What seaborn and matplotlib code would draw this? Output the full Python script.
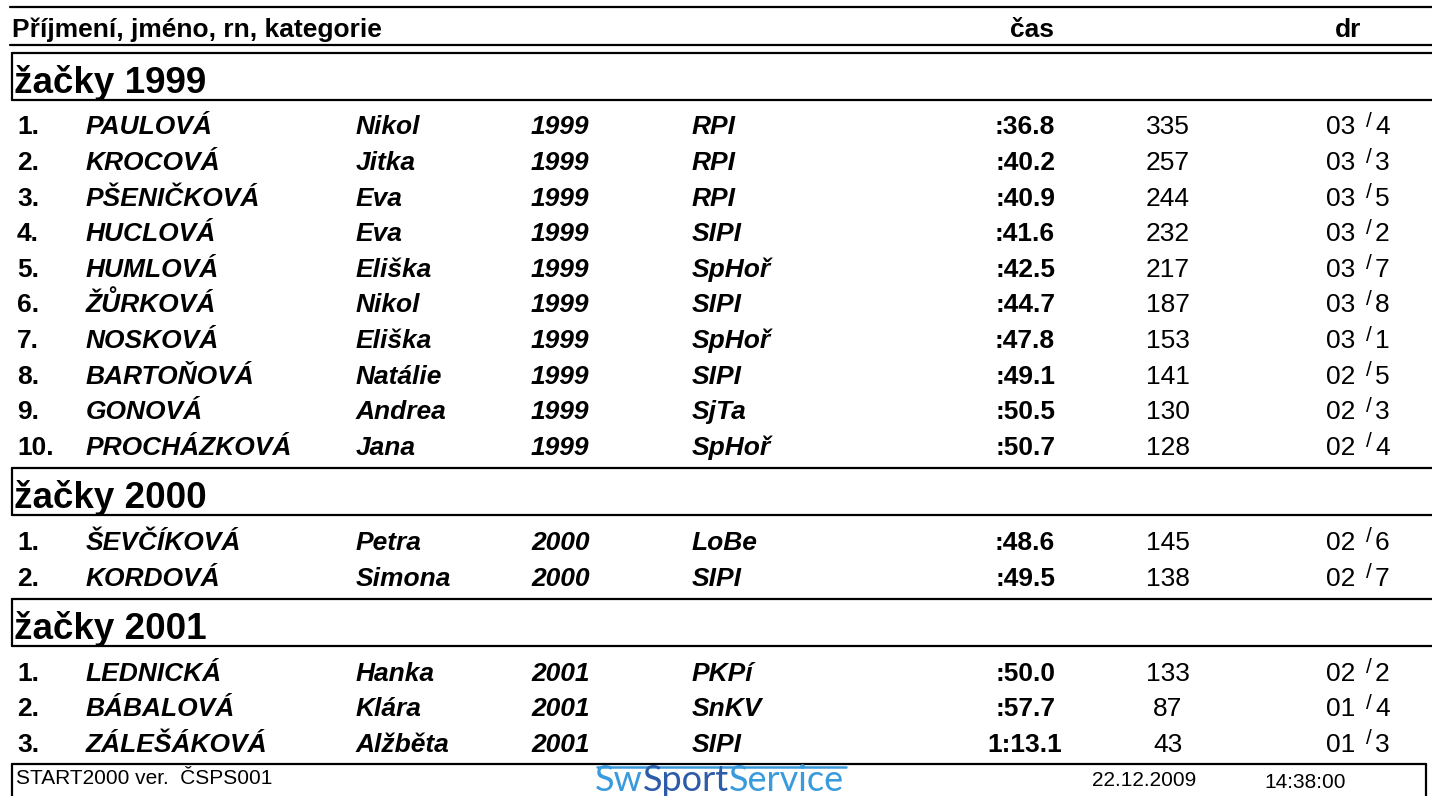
import matplotlib
matplotlib.use("Agg")
import matplotlib.pyplot as plt
import seaborn as sns

sns.set_style("white")
plt.rcParams['font.family'] = ['Liberation Sans', 'DejaVu Sans']
plt.rcParams['text.color'] = 'black'

# data
header = "Příjmení, jméno, rn, kategorie"
categories = ["žačky 1999", "žačky 2000", "žačky 2001"]
ranks = [[1, 2, 3, 4, 5, 6, 7, 8, 9, 10], [1, 2], [1, 2, 3]]
surnames = [["PAULOVÁ", "KROCOVÁ", "PŠENIČKOVÁ", "HUCLOVÁ", "HUMLOVÁ",
             "ŽŮRKOVÁ", "NOSKOVÁ", "BARTOŇOVÁ", "GONOVÁ", "PROCHÁZKOVÁ"],
            ["ŠEVČÍKOVÁ", "KORDOVÁ"],
            ["LEDNICKÁ", "BÁBALOVÁ", "ZÁLEŠÁKOVÁ"]]
first_names = [["Nikol", "Jitka", "Eva", "Eva", "Eliška",
                "Nikol", "Eliška", "Natálie", "Andrea", "Jana"],
               ["Petra", "Simona"],
               ["Hanka", "Klára", "Alžběta"]]
years = [[1999] * 10, [2000] * 2, [2001] * 3]
clubs = [["RPI", "RPI", "RPI", "SIPI", "SpHoř", "SIPI", "SpHoř", "SIPI", "SjTa", "SpHoř"],
         ["LoBe", "SIPI"],
         ["PKPí", "SnKV", "SIPI"]]
times = [[":36.8", ":40.2", ":40.9", ":41.6", ":42.5", ":44.7", ":47.8", ":49.1", ":50.5", ":50.7"],
         [":48.6", ":49.5"],
         [":50.0", ":57.7", "1:13.1"]]
points = [[335, 257, 244, 232, 217, 187, 153, 141, 130, 128],
          [145, 138],
          [133, 87, 43]]
heats = [["03", "03", "03", "03", "03", "03", "03", "02", "02", "02"],
         ["02", "02"],
         ["02", "01", "01"]]
lanes = [[4, 3, 5, 2, 7, 8, 1, 5, 3, 4],
         [6, 7],
         [2, 4, 3]]
footer_left = "START2000 ver.  ČSPS001"
footer_date = "22.12.2009"
footer_time = "14:38:00"
logo_parts = ["Sw", "Sport", "Service"]

W, H = 1432, 796
fig = plt.figure(figsize=(W / 100, H / 100), dpi=100)
ax = fig.add_axes([0, 0, 1, 1])
ax.set_xlim(0, W)
ax.set_ylim(H, 0)
ax.axis("off")

LW = 1.6
FS = 19
k = "black"

# column header
ax.plot([10, W], [7, 7], color=k, lw=LW)
ax.text(12, 37, header, fontsize=FS, fontweight="bold", va="baseline")
ax.text(1032, 37, "čas", fontsize=FS, fontweight="bold", va="baseline", ha="center")
ax.text(1348, 37, "dr", fontsize=FS, fontweight="bold", va="baseline", ha="center")
ax.plot([10, W], [45, 45], color=k, lw=LW)

step = 35.6
top = 53
for ci, cat in enumerate(categories):
    bottom = top + 47
    ax.plot([12, W], [top, top], color=k, lw=LW)
    ax.plot([12, W], [bottom, bottom], color=k, lw=LW)
    ax.plot([12, 12], [top, bottom], color=k, lw=LW)
    ax.text(14, bottom - 7, cat, fontsize=26.5, fontweight="bold", va="baseline")
    y = bottom + 26
    for i in range(len(ranks[ci])):
        base = y + 8.5
        ax.text(17, base, f"{ranks[ci][i]}.", fontsize=FS, fontweight="bold", va="baseline")
        ax.text(86, base, surnames[ci][i], fontsize=FS, fontweight="bold",
                fontstyle="italic", va="baseline")
        ax.text(356, base, first_names[ci][i], fontsize=FS, fontweight="bold",
                fontstyle="italic", va="baseline")
        ax.text(531, base, str(years[ci][i]), fontsize=FS, fontweight="bold",
                fontstyle="italic", va="baseline")
        ax.text(692, base, clubs[ci][i], fontsize=FS, fontweight="bold",
                fontstyle="italic", va="baseline")
        ax.text(1025, base, times[ci][i], fontsize=FS, fontweight="bold",
                va="baseline", ha="center")
        ax.text(1168, base, str(points[ci][i]), fontsize=FS, va="baseline", ha="center")
        ax.text(1326, base, heats[ci][i], fontsize=FS, va="baseline")
        ax.text(1369, y + 1, "/", fontsize=15, va="baseline", ha="center")
        ax.text(1375, base, str(lanes[ci][i]), fontsize=FS, va="baseline")
        last = y
        y += step
    top = last + 22

# footer box
ft = top - 1
ax.plot([12, 1426], [ft, ft], color=k, lw=LW)
ax.plot([12, 12], [ft, H + 5], color=k, lw=LW)
ax.plot([1426, 1426], [ft, H + 5], color=k, lw=LW)
ax.text(16, 784, footer_left, fontsize=15, va="baseline")
ax.text(1092, 786, footer_date, fontsize=15, va="baseline")
ax.text(1264, 788, footer_time, fontsize=15, va="baseline")

# logo
light, dark = "#3a9bdc", "#2c5ba8"
logo_cols = [light, dark, light]
prev = ax.text(595, 791, logo_parts[0], fontsize=26, color=logo_cols[0],
               family="Lato", va="baseline")
for part, col in zip(logo_parts[1:], logo_cols[1:]):
    prev = ax.annotate(part, xy=(1, 0), xycoords=prev, va="bottom", ha="left",
                       fontsize=26, color=col, family="Lato")
ax.plot([597, 846], [767, 767], color=light, lw=1.8)

fig.savefig("out.png", dpi=100)
